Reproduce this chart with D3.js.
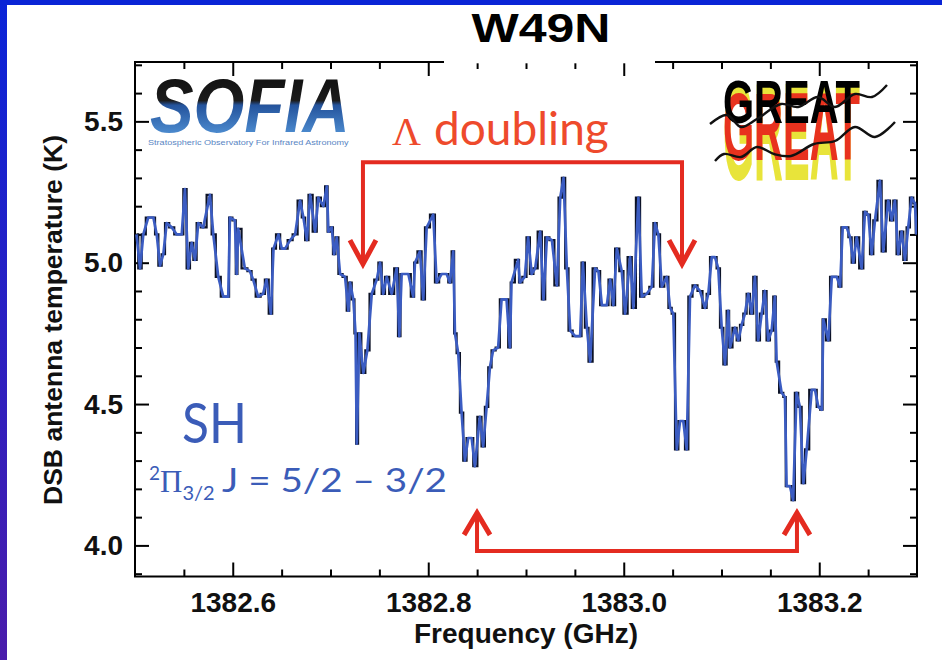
<!DOCTYPE html>
<html><head><meta charset="utf-8">
<script src="https://cdn.jsdelivr.net/npm/d3@7"></script>
<style>html,body{margin:0;padding:0;background:#fff;overflow:hidden}svg{display:block}</style>
</head><body><svg id="c" width="942" height="660"></svg>
<script>
// ---- data ----
const freqGHz = [
1382.5015,1382.5052,1382.5085,1382.5136,1382.5188,1382.5222,1382.5256,1382.5290,1382.5324,1382.5376,
1382.5427,1382.5478,1382.5511,1382.5545,1382.5580,1382.5614,1382.5647,1382.5698,1382.5767,1382.5801,
1382.5852,1382.5903,1382.5954,1382.5971,1382.6022,1382.6040,1382.6056,1382.6124,1382.6176,1382.6209,
1382.6260,1382.6311,1382.6346,1382.6390,1382.6417,1382.6468,1382.6502,1382.6536,1382.6587,1382.6638,
1382.6689,1382.6723,1382.6758,1382.6792,1382.6843,1382.6876,1382.6927,1382.6962,1382.6979,1382.7013,
1382.7037,1382.7064,1382.7098,1382.7149,1382.7183,1382.7200,1382.7234,1382.7256,1382.7269,1382.7295,
1382.7336,1382.7377,1382.7422,1382.7473,1382.7507,1382.7540,1382.7575,1382.7626,1382.7677,1382.7704,
1382.7728,1382.7796,1382.7847,1382.7864,1382.7915,1382.7949,1382.7984,1382.8051,1382.8086,1382.8137,
1382.8188,1382.8222,1382.8256,1382.8273,1382.8307,1382.8341,1382.8375,1382.8409,1382.8444,1382.8477,
1382.8528,1382.8562,1382.8597,1382.8631,1382.8664,1382.8715,1382.8750,1382.8801,1382.8835,1382.8852,
1382.8920,1382.8937,1382.8988,1382.9022,1382.9058,1382.9094,1382.9145,1382.9179,1382.9214,1382.9265,
1382.9316,1382.9350,1382.9384,1382.9418,1382.9452,1382.9503,1382.9554,1382.9582,1382.9623,1382.9656,
1382.9707,1382.9741,1382.9776,1382.9827,1382.9861,1382.9894,1382.9929,1382.9980,1383.0014,1383.0065,
1383.0099,1383.0150,1383.0184,1383.0236,1383.0287,1383.0320,1383.0354,1383.0389,1383.0440,1383.0474,
1383.0507,1383.0542,1383.0576,1383.0609,1383.0644,1383.0678,1383.0729,1383.0780,1383.0831,1383.0865,
1383.0900,1383.0933,1383.0967,1383.1002,1383.1036,1383.1069,1383.1087,1383.1138,1383.1172,1383.1206,
1383.1240,1383.1274,1383.1308,1383.1342,1383.1376,1383.1411,1383.1444,1383.1478,1383.1513,1383.1546,
1383.1564,1383.1615,1383.1649,1383.1666,1383.1700,1383.1733,1383.1768,1383.1802,1383.1838,1383.1872,
1383.1923,1383.1957,1383.1991,1383.2026,1383.2042,1383.2093,1383.2128,1383.2179,1383.2213,1383.2240,
1383.2281,1383.2315,1383.2348,1383.2383,1383.2434,1383.2468,1383.2502,1383.2536,1383.2570,1383.2621,
1383.2655,1383.2706,1383.2741,1383.2774,1383.2808,1383.2843,1383.2877,1383.2910,1383.2945,1383.2979,
1383.2995];
const tempK = [
5.10,4.98,5.10,5.16,5.16,5.10,4.99,5.03,5.14,5.125,
5.10,5.10,5.26,4.98,5.07,5.01,5.14,5.125,5.24,5.10,
4.95,4.88,4.88,5.16,5.15,4.96,5.12,4.98,4.97,4.94,
4.88,4.89,4.94,4.82,5.05,5.10,5.05,5.05,5.08,5.10,
5.22,5.16,5.08,5.24,5.11,5.23,5.20,5.27,5.11,5.125,
5.03,5.09,4.96,4.95,4.83,4.93,4.87,4.75,4.36,4.75,
4.61,4.69,4.89,4.94,5.00,4.89,4.95,4.89,4.98,4.74,
4.96,4.96,4.88,5.00,5.04,4.87,5.125,5.17,4.93,4.96,
4.96,4.93,5.04,4.75,4.68,4.47,4.30,4.38,4.38,4.28,
4.455,4.35,4.49,4.63,4.69,4.70,4.87,4.87,4.70,4.93,
5.01,4.93,4.95,5.09,4.96,4.98,5.11,4.87,5.09,5.08,
4.92,5.23,5.30,4.98,4.76,4.74,4.74,5.00,4.77,4.65,
4.98,4.97,4.85,4.85,4.94,4.85,5.05,4.97,4.82,5.02,
4.84,5.23,4.88,4.89,4.915,5.14,5.10,4.915,4.95,4.84,
4.82,4.34,4.44,4.44,4.34,4.88,4.92,4.90,4.84,4.89,
5.02,5.02,4.98,4.77,4.64,4.83,4.70,4.77,4.725,4.78,
4.82,4.89,4.82,4.95,4.725,4.82,4.90,4.725,4.76,4.88,
4.65,4.54,4.525,4.21,4.21,4.16,4.54,4.49,4.22,4.34,
4.55,4.55,4.49,4.48,4.80,4.725,4.95,4.95,4.915,5.125,
5.125,5.09,5.00,5.09,4.98,5.18,5.17,5.03,5.15,5.29,
5.04,5.22,5.15,5.22,5.03,5.11,5.01,5.125,5.23,5.21,
5.10];
const xMajorTicks = [1382.6, 1382.8, 1383.0, 1383.2];
const xTickLabels = ["1382.6", "1382.8", "1383.0", "1383.2"];
const yMajorTicks = [4.0, 4.5, 5.0, 5.5];
const yTickLabels = ["4.0", "4.5", "5.0", "5.5"];
const xMinorTicks = [1382.55,1382.65,1382.7,1382.75,1382.85,1382.9,1382.95,1383.05,1383.1,1383.15,1383.25];
const yMinorTicks = [3.9,4.1,4.2,4.3,4.4,4.6,4.7,4.8,4.9,5.1,5.2,5.3,5.4,5.6,5.7];
const lambdaPairTopGHz = [1382.7332, 1383.0596];
const lambdaPairBottomGHz = [1382.8499, 1383.1772];
const titleText = "W49N";
const xTitle = "Frequency (GHz)";
const yTitle = "DSB antenna temperature (K)";

// ---- layout ----
const W = 942, H = 660;
const L = 135, R = 917, T = 62, B = 576.5;
const svg = d3.select("#c");
const defs = svg.append("defs");

const x = d3.scaleLinear().domain([1382.5, 1383.3]).range([L, R]);
const y = d3.scaleLinear().domain([3.89, 5.71]).range([B, T]);

// slide frame
const g1 = defs.append("linearGradient").attr("id","sideGrad").attr("x1",0).attr("y1",0).attr("x2",0).attr("y2",1);
g1.append("stop").attr("offset","0%").attr("stop-color","#0a24d8");
g1.append("stop").attr("offset","100%").attr("stop-color","#4a1cab");
svg.append("rect").attr("x",0).attr("y",0).attr("width",W).attr("height",H).attr("fill","#fff");
svg.append("rect").attr("x",0).attr("y",0).attr("width",7).attr("height",H).attr("fill","url(#sideGrad)");
svg.append("rect").attr("x",0).attr("y",0).attr("width",W).attr("height",5).attr("fill","#0a24d6");

defs.append("clipPath").attr("id","plotClip").append("rect")
  .attr("x",L).attr("y",T).attr("width",R-L).attr("height",B-T);

// ---- logos (decoration) ----
const sofiaGrad = defs.append("linearGradient").attr("id","sofiaGrad")
  .attr("gradientUnits","userSpaceOnUse").attr("x1",0).attr("y1",-56).attr("x2",0).attr("y2",0);
[["0%","#111"],["44%","#1c1c1c"],["52%","#24539c"],["100%","#4a88cc"]].forEach(s=>sofiaGrad.append("stop").attr("offset",s[0]).attr("stop-color",s[1]));
svg.append("text").attr("transform","translate(150,132) scale(0.86,1)")
  .attr("font-family","Liberation Sans, Arial, sans-serif").attr("font-style","italic").attr("font-weight","bold")
  .attr("font-size",76).attr("fill","url(#sofiaGrad)").text("SOFIA");
svg.append("text").attr("transform","translate(148,145) scale(1.42,1)")
  .attr("font-family","Liberation Sans, Arial, sans-serif").attr("font-size",6.4)
  .attr("fill","#5a86c4").text("Stratospheric Observatory For Infrared Astronomy");

const greatLayers = [["#e8e43a",180,100],["#e8321e",160,70],["#000",123,44]];
greatLayers.forEach(([c,base,cap])=>{
  svg.append("text").attr("transform",`translate(723,${base}) scale(1,${(cap/28.8).toFixed(3)})`)
    .attr("font-family","Liberation Sans, Arial, sans-serif").attr("font-weight","bold")
    .attr("font-size",40).attr("fill",c).text("GREAT");
});
const wave1 = [[710,124],[727,115],[741,127],[757,119],[781,104],[798,107],[818,97],[835,107],[855,94],[872,97],[887,85]];
const wave2 = [[715,161],[724,154],[741,157],[757,147],[774,154],[791,156],[814,144],[835,141],[855,127],[875,137],[895,122]];
[wave1,wave2].forEach(w=>svg.append("path").attr("d",d3.line().curve(d3.curveCatmullRom)(w))
  .attr("fill","none").attr("stroke","#111").attr("stroke-width",2.4));

// ---- axes ----
const axG = svg.append("g").attr("font-family","Liberation Sans, Arial, sans-serif");
function styleAxis(sel){ sel.select(".domain").remove(); sel.selectAll(".tick line").attr("stroke","#000").attr("stroke-width",2); }
const tickFont = 28;
axG.append("g").attr("transform",`translate(0,${B})`)
  .call(d3.axisBottom(x).tickValues(xMinorTicks).tickSize(-7).tickFormat("")).call(styleAxis);
axG.append("g").attr("transform",`translate(0,${B})`)
  .call(d3.axisBottom(x).tickValues(xMajorTicks).tickSize(-14).tickPadding(16).tickFormat((d,i)=>xTickLabels[i]))
  .call(styleAxis)
  .call(s=>s.selectAll("text").attr("font-size",tickFont).attr("font-weight","bold").attr("fill","#111").attr("font-family","Liberation Sans, Arial, sans-serif"));
axG.append("g").attr("transform",`translate(0,${T})`)
  .call(d3.axisTop(x).tickValues(xMinorTicks).tickSize(-7).tickFormat("")).call(styleAxis);
axG.append("g").attr("transform",`translate(0,${T})`)
  .call(d3.axisTop(x).tickValues(xMajorTicks).tickSize(-14).tickFormat("")).call(styleAxis);
axG.append("g").attr("transform",`translate(${L},0)`)
  .call(d3.axisLeft(y).tickValues(yMinorTicks).tickSize(-7).tickFormat("")).call(styleAxis);
axG.append("g").attr("transform",`translate(${L},0)`)
  .call(d3.axisLeft(y).tickValues(yMajorTicks).tickSize(-14).tickPadding(12).tickFormat((d,i)=>yTickLabels[i]))
  .call(styleAxis)
  .call(s=>s.selectAll("text").attr("font-size",tickFont).attr("font-weight","bold").attr("fill","#111").attr("font-family","Liberation Sans, Arial, sans-serif"));
axG.append("g").attr("transform",`translate(${R},0)`)
  .call(d3.axisRight(y).tickValues(yMinorTicks).tickSize(-7).tickFormat("")).call(styleAxis);
axG.append("g").attr("transform",`translate(${R},0)`)
  .call(d3.axisRight(y).tickValues(yMajorTicks).tickSize(-14).tickFormat("")).call(styleAxis);
svg.append("rect").attr("x",L).attr("y",T).attr("width",R-L).attr("height",B-T)
  .attr("fill","none").attr("stroke","#000").attr("stroke-width",2);
svg.append("rect").attr("x",444).attr("y",48).attr("width",211).attr("height",15.3).attr("fill","#fff");

// titles
svg.append("text").attr("x",541).attr("y",42).attr("text-anchor","middle")
  .attr("font-family","Liberation Sans, Arial, sans-serif").attr("font-weight","bold").attr("font-size",40)
  .attr("textLength",139).attr("lengthAdjust","spacingAndGlyphs").attr("fill","#000").text(titleText);
svg.append("text").attr("x",(L+R)/2).attr("y",643).attr("text-anchor","middle")
  .attr("font-family","Liberation Sans, Arial, sans-serif").attr("font-weight","bold").attr("font-size",27)
  .attr("textLength",224).attr("lengthAdjust","spacingAndGlyphs").attr("fill","#111").text(xTitle);
svg.append("text").attr("transform",`translate(62,320) rotate(-90)`).attr("text-anchor","middle")
  .attr("font-family","Liberation Sans, Arial, sans-serif").attr("font-weight","bold").attr("font-size",25)
  .attr("textLength",370).attr("lengthAdjust","spacingAndGlyphs").attr("fill","#111").text(yTitle);

// ---- spectrum ----
const pts = freqGHz.map((f,i)=>[f,tempK[i]]);
const plotG = svg.append("g").attr("clip-path","url(#plotClip)");
plotG.append("path").datum(pts)
  .attr("d",d3.line().curve(d3.curveStep).x(d=>x(d[0])).y(d=>y(d[1])))
  .attr("fill","none").attr("stroke","#0c1226").attr("stroke-width",2.2);
plotG.append("path").datum(pts)
  .attr("d",d3.line().x(d=>x(d[0])).y(d=>y(d[1])))
  .attr("fill","none").attr("stroke","#3b5cc2").attr("stroke-width",2.7).attr("stroke-linejoin","round");

// ---- annotations ----
const red = "#e42b20";
const annG = svg.append("g").attr("stroke",red).attr("fill","none").attr("stroke-width",4);
const topY = y(5.355), topTip = y(4.995);
annG.append("path").attr("d",`M${x(lambdaPairTopGHz[0])},${topTip-2}V${topY}H${x(lambdaPairTopGHz[1])}V${topTip-2}`);
lambdaPairTopGHz.forEach(f=>{
  const cx = x(f);
  annG.append("path").attr("d",`M${cx-13},${topTip-24}L${cx},${topTip}L${cx+13},${topTip-24}`).attr("stroke-width",5);
});
const botY = y(3.98), botTip = y(4.115);
annG.append("path").attr("d",`M${x(lambdaPairBottomGHz[0])},${botTip+2}V${botY}H${x(lambdaPairBottomGHz[1])}V${botTip+2}`);
lambdaPairBottomGHz.forEach(f=>{
  const cx = x(f);
  annG.append("path").attr("d",`M${cx-13},${botTip+22}L${cx},${botTip}L${cx+13},${botTip+22}`).attr("stroke-width",5);
});

const lam = svg.append("text").attr("x",392).attr("y",145).attr("fill","#ee4a2c");
lam.append("tspan").attr("font-family","Liberation Serif, DejaVu Serif, serif").attr("font-size",40).text("Λ");
lam.append("tspan").attr("dx",13).attr("font-family","Lato, Open Sans, sans-serif").attr("font-size",46).text("doubling");

const blue = "#3b5cb8";
svg.append("text").attr("x",182).attr("y",443).attr("fill",blue)
  .attr("font-family","Lato, Open Sans, sans-serif").attr("font-size",56)
  .attr("textLength",65).attr("lengthAdjust","spacingAndGlyphs").text("SH");
const st = svg.append("text").attr("x",149).attr("y",492).attr("fill",blue).attr("font-family","Lato, Open Sans, sans-serif");
st.append("tspan").attr("font-size",19).attr("dy",-12).text("2");
st.append("tspan").attr("font-size",31).attr("dy",12).attr("font-family","Liberation Serif, DejaVu Serif, serif").text("Π");
st.append("tspan").attr("font-size",20).attr("dy",8).text("3/2");
svg.append("text").attr("x",222).attr("y",492).attr("fill",blue)
  .attr("font-family","Lato, Open Sans, sans-serif").attr("font-size",32)
  .attr("textLength",225).attr("lengthAdjust","spacingAndGlyphs").text("J = 5/2 – 3/2");
</script></body></html>
